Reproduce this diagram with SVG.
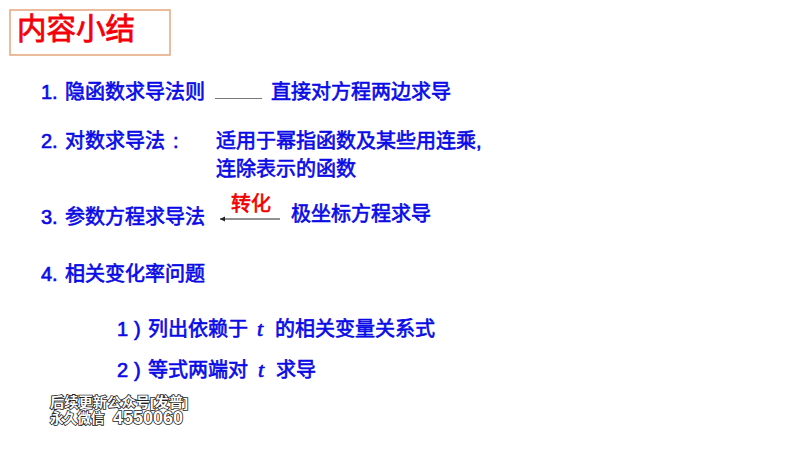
<svg xmlns="http://www.w3.org/2000/svg" width="800" height="450" viewBox="0 0 800 450">
<defs>
<marker id="ah" markerWidth="6" markerHeight="6" refX="5" refY="2.5" orient="auto" markerUnits="userSpaceOnUse"><path d="M5 0L0 2.5L5 5Z" transform="rotate(180 2.5 2.5)" fill="#222"/></marker>
</defs>
<style>
text{font-family:"Liberation Sans","Noto Sans CJK SC",sans-serif}
.b{font-size:20px;fill:#0a0ae6;stroke:#0a0ae6;stroke-width:.65}
.t{font-family:"Liberation Serif","Noto Sans CJK SC",serif;font-style:italic;font-size:22px}
.w{font-size:13.6px;font-weight:700;fill:#fff;stroke:#222;stroke-width:1.6;paint-order:stroke}
</style>
<rect width="800" height="450" fill="#fff"/>
<g id="title"><rect x="10" y="10" width="160" height="45" fill="#fff" stroke="#e3a67c" stroke-width="1.5"/>
<text x="17" y="39" font-size="29.5" fill="#f5000a" stroke="#f5000a" stroke-width=".8">内容小结</text></g>
<g id="items">
<text class="b" x="41" y="99">1.</text><text class="b" x="65" y="99">隐函数求导法则</text>
<text class="b" x="271" y="99">直接对方程两边求导</text>
<text class="b" x="41" y="148">2.</text><text class="b" x="65" y="148">对数求导法</text><text class="b" x="173" y="148">:</text>
<text class="b" x="216" y="148">适用于幂指函数及某些用连乘,</text>
<text class="b" x="216" y="176">连除表示的函数</text>
<text class="b" x="41" y="224">3.</text><text class="b" x="65" y="224">参数方程求导法</text>
<text class="b" x="291" y="221">极坐标方程求导</text>
<text x="231" y="211" font-size="20" fill="#f00000" stroke="#f00000" stroke-width=".65">转化</text>
<text class="b" x="41" y="281">4.</text><text class="b" x="65" y="281">相关变化率问题</text>
<text class="b" x="117" y="336">1</text><text class="b" x="134" y="336">)</text><text class="b" x="148" y="336">列出依赖于</text>
<text class="b t" x="257" y="336">t</text>
<text class="b" x="275" y="336">的相关变量关系式</text>
<text class="b" x="117" y="377">2</text><text class="b" x="134" y="377">)</text><text class="b" x="148" y="377">等式两端对</text>
<text class="b t" x="258" y="377">t</text>
<text class="b" x="276" y="377">求导</text>
</g>
<g id="connectors" fill="none">
<line x1="215" y1="98.5" x2="262" y2="98.5" stroke="#777" stroke-width="1"/>
<line x1="280" y1="219" x2="220" y2="219" stroke="#222" stroke-width="1" marker-end="url(#ah)"/>
</g>
<g id="watermark">
<text class="w" x="50" y="407" textLength="138" lengthAdjust="spacingAndGlyphs">后续更新公众号[发普]</text>
<text class="w" x="50" y="423">永久微信</text>
<text class="w" x="113" y="424" font-size="18" style="font-size:18px" textLength="70" lengthAdjust="spacingAndGlyphs">4550060</text>
</g>
</svg>
